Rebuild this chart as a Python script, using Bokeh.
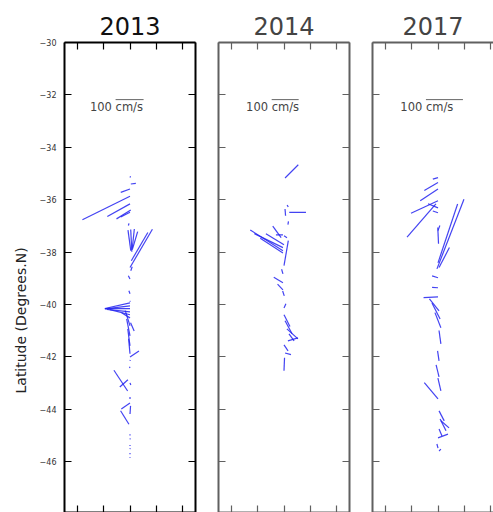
import math
from bokeh.plotting import figure
from bokeh.layouts import row
from bokeh.models import Range1d, LinearAxis, FixedTicker, Label, ColumnDataSource, Title
from bokeh.embed import file_html
from bokeh.resources import INLINE

# ---------------- data ----------------
years = ["2013", "2014", "2017"]
ytick_values = [-48, -46, -44, -42, -40, -38, -36, -34, -32, -30]
ytick_labels = ["\u221248", "\u221246", "\u221244", "\u221242", "\u221240",
                "\u221238", "\u221236", "\u221234", "\u221232", "\u221230"]
xtick_values = [-2, -1, 0, 1, 2]
key_speed = 100  # cm/s

# 2013 stations: latitude, longitude offset from track (deg), u, v (cm/s)
lat13 = [-35.15, -35.40, -35.59, -35.87, -36.16, -36.39, -36.48, -36.90,
         -37.95, -37.99, -37.92, -37.87, -38.59, -38.33, -38.71, -39.03,
         -39.59, -39.86, -39.94, -40.05, -40.16, -40.28, -40.39, -40.51,
         -40.81, -41.20, -41.58, -41.88, -40.70, -42.00, -42.15, -42.42,
         -43.30, -42.87, -42.99, -44.57, -43.76, -44.18, -43.53,
         -44.95, -45.15, -45.36, -45.52, -45.67, -45.86]
lon13 = [0.0, 0.03, 0.0, 0.0, 0.0, 0.03, 0.0, -0.04,
         0.03, 0.07, 0.08, 0.10, 0.0, 0.05, 0.03, 0.0,
         0.0, 0.0, 0.0, 0.0, 0.0, 0.0, 0.0, 0.0,
         0.0, 0.0, 0.0, 0.0, 0.02, 0.0, 0.0, 0.0,
         -0.09, -0.08, 0.0, -0.04, 0.0, 0.0, 0.0,
         0.0, 0.0, 0.0, 0.0, 0.0, 0.0]
u13 = [2, 18, -33, -170, -81, -51, -33, -2,
       -10, -4, 8, 18, 80, 59, 5, -6,
       -4, 1, -90, -90, -89, -83, -72, -30,
       -17, -12, -8, -5, 13, 32, 1, -2,
       -49, -29, 3, -30, -31, 2, 0,
       0, 1, 0, 1, 0, 0]
v13 = [4, 2, -12, -84, -45, -32, -17, -8,
       74, 80, 75, 61, 137, 101, 14, 12,
       11, -3, -20, -11, 0, 9, 18, 18,
       54, 61, 61, 54, -29, 21, 3, 4,
       74, -26, -8, 48, -21, 29, -7,
       -5, 4, -4, 3, -4, 3]

lat14 = [-35.17, -36.20, -36.61, -36.48, -36.95,
         -37.95, -37.83, -38.03, -37.72, -37.45, -37.34, -37.38,
         -38.52, -38.83, -39.17, -39.44, -39.67,
         -40.13, -40.39, -40.62, -40.93, -41.12, -41.39,
         -41.54, -41.85, -42.53]
lon14 = [0.04, 0.12, 0.06, 0.20, 0.15,
         -0.04, -0.04, -0.04, 0.0, -0.11, -0.04, 0.0,
         0.0, -0.04, -0.04, -0.04, 0.01,
         0.0, 0.0, 0.04, 0.11, 0.19, 0.15,
         0.0, 0.04, 0.0]
u14 = [49, 4, -2, 62, 2,
       -121, -106, -84, -67, -31, -26, 11,
       16, -5, -34, -20, -6,
       7, 22, 26, 41, 19, 37,
       15, 22, 2]
v14 = [49, -8, 25, 0, 12,
       77, 52, 54, 41, 43, 0, -7,
       93, 17, 20, 21, 18,
       15, -44, -48, -37, -26, 11,
       -22, -6, 48]

lat17 = [-35.16, -35.34, -35.59, -36.04, -36.16, -36.31, -36.50, -37.18,
         -38.64, -38.41, -38.59, -37.68, -38.98, -39.36, -39.71,
         -40.24, -40.55, -40.89, -41.50, -42.15, -42.76, -43.30, -43.60,
         -44.06, -44.37, -44.44, -44.75, -45.09, -45.48, -45.59]
lon17 = [0.0, 0.0, 0.0, 0.0, -0.08, 0.0, 0.0, 0.0,
         -0.04, 0.0, 0.04, 0.02, 0.0, 0.0, 0.0,
         0.04, 0.08, 0.11, 0.11, 0.04, 0.04, 0.11, 0.0,
         0.04, 0.08, 0.11, 0.04, 0.0, 0.0, 0.04]
u17 = [-14, -37, -48, -73, -78, -27, -14, 5,
       73, 53, 28, -2, -16, -16, -39,
       -26, -22, -16, -5, -4, -8, -8, -37,
       14, 16, 22, 8, 27, -3, 5]
v17 = [-4, -22, -32, -34, -90, 11, 5, 14,
       188, 159, 54, 44, 5, 1, -2,
       32, 43, 41, 36, 27, 32, 35, 44,
       -27, -32, -19, -19, 10, 11, 5]

# ---------------- layout ----------------
PX = 26.2           # pixels per degree
FH = 470            # frame height
Y0 = -30.0
y_bottom = Y0 - FH / PX

panels = [
    dict(year=years[0], lat=lat13, lon=lon13, u=u13, v=v13, scale=0.28 / PX,
         color="#000000", title_color="#111111", fw=131, bl=64, br=11, right=True,
         labels=True, key_x=-0.55),
    dict(year=years[1], lat=lat14, lon=lon14, u=u14, v=v14, scale=0.27 / PX,
         color="#606060", title_color="#444444", fw=131, bl=12, br=11, right=True,
         labels=False, key_x=-0.47),
    dict(year=years[2], lat=lat17, lon=lon17, u=u17, v=v17, scale=0.37 / PX,
         color="#606060", title_color="#444444", fw=121, bl=12, br=0, right=False,
         labels=False, key_x=-0.46),
]

FONT = "DejaVu Sans"
figs = []
for cfg in panels:
    x_end = -2.5 + cfg["fw"] / PX
    p = figure(frame_width=cfg["fw"], frame_height=FH,
               x_range=Range1d(-2.5, x_end), y_range=Range1d(y_bottom, Y0),
               x_axis_location=None, y_axis_location=None,
               output_backend="svg", toolbar_location=None,
               min_border_left=cfg["bl"], min_border_right=cfg["br"],
               min_border_top=42, min_border_bottom=0,
               background_fill_color="white", border_fill_color="white")
    p.outline_line_color = None
    p.xgrid.visible = False
    p.ygrid.visible = False

    locs = ["left", "above", "below"] + (["right"] if cfg["right"] else [])
    for loc in locs:
        ticks = ytick_values if loc in ("left", "right") else xtick_values
        ax = LinearAxis(ticker=FixedTicker(ticks=ticks))
        ax.axis_line_color = cfg["color"]
        ax.axis_line_width = 2
        ax.major_tick_line_color = cfg["color"]
        ax.major_tick_line_width = 1.2
        ax.major_tick_in = 7
        ax.major_tick_out = 0
        ax.minor_tick_line_color = None
        if loc == "left" and cfg["labels"]:
            ax.major_label_overrides = dict(zip(ytick_values, ytick_labels))
            ax.major_label_text_font_size = "8px"
            ax.major_label_text_color = "#333333"
            ax.major_label_text_font = FONT
            ax.major_label_standoff = 8
        else:
            ax.major_label_text_font_size = "0px"
            ax.major_label_text_color = None
            ax.major_label_standoff = 0
        p.add_layout(ax, loc)

    p.title.text = cfg["year"]
    p.title.align = "center"
    p.title.text_font = FONT
    p.title.text_font_size = "24px"
    p.title.text_font_style = "normal"
    p.title.text_color = cfg["title_color"]
    p.title.standoff = 15

    s = cfg["scale"]
    src = ColumnDataSource(dict(
        x0=cfg["lon"], y0=cfg["lat"],
        x1=[lo + uu * s for lo, uu in zip(cfg["lon"], cfg["u"])],
        y1=[la + vv * s for la, vv in zip(cfg["lat"], cfg["v"])],
    ))
    p.segment("x0", "y0", "x1", "y1", source=src, line_color="#2222f0",
              line_width=1.2, line_alpha=0.85)

    # quiver key
    kx = cfg["key_x"]
    ky = -32.18
    p.segment(x0=[kx], y0=[ky], x1=[kx + key_speed * s], y1=[ky],
              line_color="#666666", line_width=1)
    p.add_layout(Label(x=kx, y=-32.48, text="100 ", text_align="right",
                       text_baseline="middle", text_font=FONT,
                       text_font_size="11.5px", text_color="#444444"))
    p.add_layout(Label(x=kx, y=-32.48, text="cm/s", text_align="left",
                       text_baseline="middle", text_font=FONT,
                       text_font_size="11.5px", text_color="#444444"))

    if cfg["labels"]:
        p.add_layout(Title(text="Latitude (Degrees.N)", align="left", offset=119,
                           text_font=FONT, text_font_size="14px",
                           text_font_style="normal", text_color="#222222",
                           standoff=16), "left")
    figs.append(p)

layout = row(*figs)
open("out.html", "w").write(file_html(layout, INLINE))
